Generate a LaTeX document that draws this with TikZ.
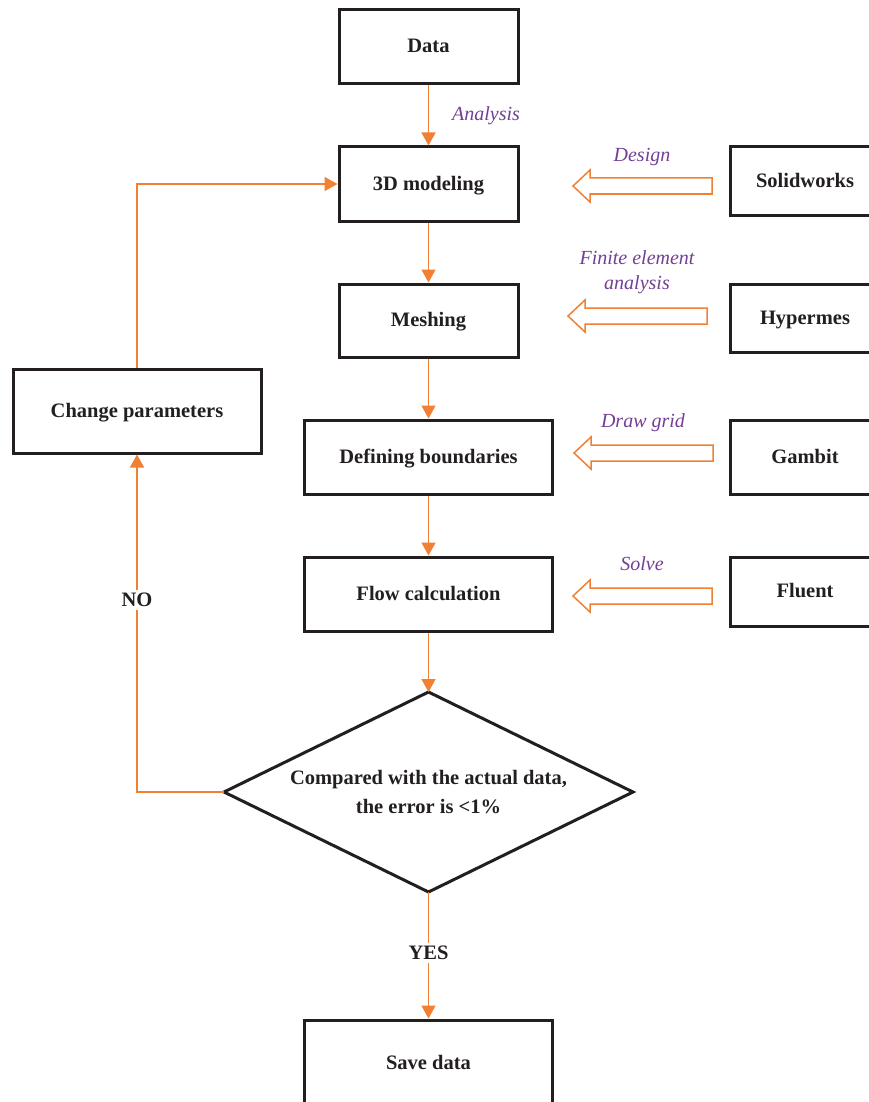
\documentclass[tikz,border=0pt]{standalone}
\usepackage{fontspec}
\setmainfont{Liberation Serif}
\usetikzlibrary{arrows.meta}
\definecolor{orng}{RGB}{240,128,52}
\definecolor{purp}{RGB}{116,62,150}
\definecolor{ink}{RGB}{35,31,32}
\tikzset{
  box/.style={draw=ink, line width=3pt, fill=white, inner sep=0pt,
    text height=16pt, text depth=4pt,
    font=\fontsize{20.5}{24}\selectfont\bfseries, text=ink},
  flow/.style={draw=orng, line width=1.5pt, -{Triangle[width=14pt,length=13pt]}},
  lbl/.style={text=purp, font=\fontsize{20}{25}\selectfont\itshape, inner sep=0pt, align=center},
  yn/.style={fill=white, text=ink, font=\fontsize{20.5}{24}\selectfont\bfseries, inner sep=3pt},
  harrow/.style={draw=orng, line width=1.5pt, line join=miter, fill=white},
  dia/.style={draw=ink, line width=3pt, line join=miter, fill=white}
}
\newcommand\hollowarr[3]{%
  \draw[harrow] (#1,#3) -- (#1+17,#3-16) -- (#1+17,#3-8) -- (#2,#3-8)
    -- (#2,#3+8) -- (#1+17,#3+8) -- (#1+17,#3+16) -- cycle;}
\begin{document}
\begin{tikzpicture}[x=1pt,y=-1pt]
\clip (0,0) rectangle (869,1102);
\fill[white] (0,0) rectangle (869,1102);

% main column
\node[box, minimum width=179pt, minimum height=74pt] (data)  at (428.5,47)  {Data};
\node[box, minimum width=179pt, minimum height=74pt] (model) at (428.5,184) {3D modeling};
\node[box, minimum width=179pt, minimum height=73pt] (mesh)  at (428.5,320.5) {Meshing};
\node[box, minimum width=248pt, minimum height=74pt] (bound) at (428.5,457) {Defining boundaries};
\node[box, minimum width=248pt, minimum height=74pt] (calc)  at (428.5,594) {Flow calculation};
\node[box, minimum width=248pt, minimum height=86pt] (save)  at (428.5,1063) {Save data};

% decision
\coordinate (dT) at (428.5,692);
\coordinate (dR) at (633,792);
\coordinate (dB) at (428.5,892);
\coordinate (dL) at (224,792);
\draw[dia] (dT) -- (dR) -- (dB) -- (dL) -- cycle;
\node[text=ink, font=\fontsize{20.5}{29}\selectfont\bfseries, align=center, inner sep=0pt] (dec) at (428.5,792)
  {Compared with the actual data,\\the error is <1\%};

% left loop box
\node[box, minimum width=248pt, minimum height=84pt] (change) at (137,411) {Change parameters};

% tools
\node[box, minimum width=150pt, minimum height=68pt] (solid)  at (805,181) {Solidworks};
\node[box, minimum width=150pt, minimum height=68pt] (hyper)  at (805,318) {Hypermes};
\node[box, minimum width=150pt, minimum height=74pt] (gambit) at (805,457) {Gambit};
\node[box, minimum width=150pt, minimum height=69pt] (fluent) at (805,591.5) {Fluent};

% connectors
\draw[flow] (data) -- (model);
\draw[flow] (model) -- (mesh);
\draw[flow] (mesh) -- (bound);
\draw[flow] (bound) -- (calc);
\draw[flow] (calc) -- (dT);
\draw[flow] (dB) -- node[yn, pos=0.48] (yes) {YES} (save);
\draw[flow] (dL) -- (dL -| change.south) -- node[yn, pos=0.57] (no) {NO} (change.south);
\draw[flow] (change.north) -- (change.north |- model.west) -- (model.west);

% labels
\node[lbl] (lanal) at (486,116) {Analysis};
\node[lbl] (ldes) at (642,157) {Design};
\node[lbl] (lfem) at (637,272) {Finite element\\analysis};
\node[lbl] (lgrid) at (643,423) {Draw grid};
\node[lbl] (lsolve) at (642,564) {Solve};

% hollow arrows
\hollowarr{573}{712}{186}
\hollowarr{568}{707}{316}
\hollowarr{574}{713}{453}
\hollowarr{573}{712}{596}
\end{tikzpicture}
\end{document}
